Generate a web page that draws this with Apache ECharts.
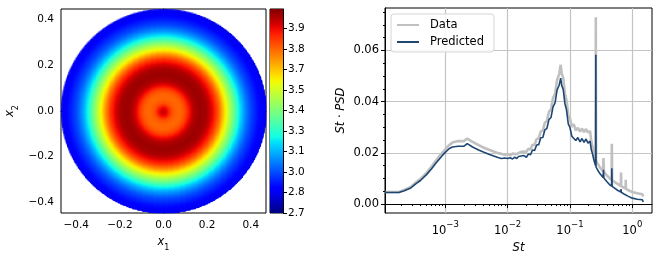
<!DOCTYPE html>
<html><head><meta charset="utf-8">
<script src="https://cdn.jsdelivr.net/npm/echarts@6/dist/echarts.min.js"></script>
<style>html,body{margin:0;padding:0;background:#fff}#c{width:664px;height:260px}</style>
</head><body><div id="c"></div>
<script>
// ---------------- Left panel: field on the disc (radial profile) ----------------
const fieldRadius = [0.00, 0.02, 0.04, 0.06, 0.08, 0.10, 0.12, 0.14, 0.17, 0.20, 0.22, 0.24, 0.26, 0.28, 0.30, 0.32, 0.34, 0.36, 0.38, 0.40, 0.43, 0.45, 0.47];
const fieldValue  = [4.00, 3.93, 3.83, 3.80, 3.80, 3.84, 3.93, 4.01, 4.04, 4.02, 3.96, 3.88, 3.77, 3.63, 3.50, 3.38, 3.25, 3.13, 3.04, 2.97, 2.90, 2.86, 2.83];
const fieldHalfX = 0.47, fieldHalfY = 0.447;
const heatXTicks = [-0.4, -0.2, 0.0, 0.2, 0.4];
const heatYTicks = [-0.4, -0.2, 0.0, 0.2, 0.4];
const cbarTickLabels = ['2.7', '2.8', '3.0', '3.1', '3.3', '3.4', '3.5', '3.7', '3.8', '3.9'];
const cbarMin = 2.70, cbarStep = 0.138, cbarSteps = 9.94;
const cbarMax = cbarMin + cbarStep * cbarSteps;

// ---------------- Right panel: spectra (St, St*PSD) ----------------
const stPredicted = [1.1e-4,1.8e-4,2.2e-4,2.8e-4,3.4e-4,4.0e-4,5.0e-4,6.0e-4,7.0e-4,8.0e-4,9.0e-4,1.0e-3,1.15e-3,1.3e-3,1.6e-3,2.0e-3,2.1e-3,2.25e-3,2.4e-3,2.7e-3,3.0e-3,3.5e-3,4.0e-3,5.0e-3,6.0e-3,7.0e-3,8.0e-3,8.5e-3,9.0e-3,9.5e-3,1.0e-2,1.05e-2,1.1e-2,1.2e-2,1.3e-2,1.4e-2,1.5e-2,1.6e-2,1.8e-2,
  0.020,0.0216,0.0233,0.0251,0.0271,0.0292,0.0315,0.0340,0.0367,0.0396,0.0427,0.0460,0.0496,0.0535,0.0577,0.0622,0.0671,0.0710,0.0740,0.0780,0.0830,0.0880,0.0940,0.1000,0.1070,0.1150,0.1240,0.1340,0.1450,0.1560,0.1680,0.1810,0.1950,0.2100,
  0.22,0.23,0.24,0.25,0.258,0.26,0.262,0.275,0.30,0.34,0.345,0.35,0.39,0.43,0.465,0.47,0.475,0.52,0.58,0.655,0.66,0.665,0.75,0.85,1.0,1.2,1.45,1.5];
const psdPredicted = [0.0045,0.0045,0.0052,0.0063,0.0080,0.0092,0.0115,0.0137,0.0158,0.0175,0.0190,0.0202,0.0216,0.0223,0.0226,0.0226,0.0231,0.0236,0.0229,0.0224,0.0218,0.0210,0.0204,0.0195,0.0188,0.0182,0.0178,0.0174,0.0180,0.0173,0.0178,0.0172,0.0181,0.0176,0.0183,0.0178,0.0186,0.0181,0.0190,
  0.0183,0.0196,0.0193,0.0211,0.0209,0.0231,0.0232,0.0259,0.0260,0.0290,0.0296,0.0330,0.0338,0.0380,0.0395,0.0446,0.0464,0.0492,0.0462,0.0448,0.0392,0.0368,0.0313,0.0299,0.0265,0.0267,0.0248,0.0260,0.0243,0.0256,0.0241,0.0254,0.0238,0.0246,
  0.0212,0.0196,0.0176,0.0160,0.0150,0.0583,0.0145,0.0135,0.0120,0.0104,0.0134,0.0102,0.0088,0.0076,0.0070,0.0140,0.0069,0.0062,0.0054,0.0047,0.0059,0.0046,0.0038,0.0031,0.0023,0.0019,0.0017,0.0008];
const stData = [1.1e-4,1.8e-4,2.2e-4,2.8e-4,3.4e-4,4.0e-4,5.0e-4,6.0e-4,7.0e-4,8.0e-4,9.0e-4,1.0e-3,1.15e-3,1.3e-3,1.6e-3,2.0e-3,2.1e-3,2.25e-3,2.4e-3,2.7e-3,3.0e-3,3.5e-3,4.0e-3,5.0e-3,6.0e-3,7.0e-3,8.0e-3,9.0e-3,1.0e-2,1.1e-2,1.2e-2,1.4e-2,1.6e-2,1.8e-2,
  0.020,0.0216,0.0233,0.0251,0.0271,0.0292,0.0315,0.0340,0.0367,0.0396,0.0427,0.0460,0.0496,0.0535,0.0577,0.0622,0.0671,0.0710,0.0740,0.0780,0.0830,0.0880,0.0940,0.1000,0.1070,0.1150,0.1240,0.1340,0.1450,0.1560,0.1680,0.1810,0.1950,0.2100,
  0.22,0.23,0.24,0.25,0.258,0.26,0.262,0.275,0.30,0.34,0.345,0.35,0.39,0.43,0.465,0.47,0.475,0.52,0.58,0.655,0.66,0.665,0.78,0.785,0.79,0.88,1.0,1.2,1.45,1.5];
const psdData = [0.0047,0.0047,0.0055,0.0067,0.0085,0.0098,0.0122,0.0146,0.0168,0.0186,0.0201,0.0214,0.0230,0.0240,0.0246,0.0246,0.0252,0.0256,0.0249,0.0244,0.0238,0.0229,0.0222,0.0212,0.0205,0.0199,0.0196,0.0192,0.0196,0.0190,0.0197,0.0195,0.0203,0.0205,
  0.0204,0.0216,0.0213,0.0232,0.0231,0.0254,0.0256,0.0284,0.0287,0.0318,0.0325,0.0360,0.0370,0.0414,0.0431,0.0485,0.0507,0.0544,0.0508,0.0493,0.0432,0.0406,0.0348,0.0335,0.0302,0.0312,0.0288,0.0298,0.0283,0.0295,0.0281,0.0293,0.0279,0.0286,
  0.0245,0.0225,0.0200,0.0185,0.0175,0.0730,0.0170,0.0160,0.0145,0.0128,0.0180,0.0126,0.0112,0.0101,0.0095,0.0236,0.0094,0.0086,0.0079,0.0071,0.0123,0.0070,0.0060,0.0095,0.0059,0.0053,0.0047,0.0042,0.0038,0.0030];
const xMajorTicks = [1e-3, 1e-2, 1e-1, 1];
const xMinorTicks = [2e-4,3e-4,4e-4,5e-4,6e-4,7e-4,8e-4,9e-4, 2e-3,3e-3,4e-3,5e-3,6e-3,7e-3,8e-3,9e-3, 2e-2,3e-2,4e-2,5e-2,6e-2,7e-2,8e-2,9e-2, 2e-1,3e-1,4e-1,5e-1,6e-1,7e-1,8e-1,9e-1];
const yMajorTicks = [0.00, 0.02, 0.04, 0.06];
const yMinorTicks = [0.005,0.010,0.015,0.025,0.030,0.035,0.045,0.050,0.055,0.065,0.070,0.075];

// ---------------- helpers ----------------
function jet(t){
  const seg = pts => { for (let k = 1; k < pts.length; k++) { if (t <= pts[k][0]) { const a = pts[k-1], b = pts[k]; return a[1] + (b[1]-a[1])*(t-a[0])/(b[0]-a[0]); } } return pts[pts.length-1][1]; };
  const r = seg([[0,0],[0.35,0],[0.66,1],[0.89,1],[1,0.5]]);
  const g = seg([[0,0],[0.125,0],[0.375,1],[0.64,1],[0.91,0],[1,0]]);
  const b = seg([[0,0.5],[0.11,1],[0.34,1],[0.65,0],[1,0]]);
  return 'rgb(' + Math.round(r*255) + ',' + Math.round(g*255) + ',' + Math.round(b*255) + ')';
}
const jetColors = []; for (let k = 0; k <= 40; k++) jetColors.push(jet(k/40));
const jetStops = jetColors.map((c, k) => ({offset: k/40, color: c}));
function profileAt(r){
  for (let k = 1; k < fieldRadius.length; k++) if (r <= fieldRadius[k]) {
    const f = (r - fieldRadius[k-1]) / (fieldRadius[k] - fieldRadius[k-1]);
    return fieldValue[k-1] + f*(fieldValue[k] - fieldValue[k-1]);
  }
  return fieldValue[fieldValue.length-1];
}
const NC = 170, dx = 2*fieldHalfX/NC, dy = 2*fieldHalfY/NC;
const cellPxFrac = 1.0 / (NC/2);   // one cell as a fraction of the disc radius
const cells = [];
for (let i = 0; i < NC; i++) for (let j = 0; j < NC; j++) {
  const x = -fieldHalfX + (i+0.5)*dx, y = -fieldHalfY + (j+0.5)*dy;
  const rn = Math.sqrt((x/fieldHalfX)**2 + (y/fieldHalfY)**2);
  const cover = Math.max(0, Math.min(1, (1 - rn)/cellPxFrac + 0.5));
  if (cover <= 0) continue;
  cells.push([x, y, profileAt(Math.min(rn, 1)*fieldHalfX), cover]);
}
const FONT = 'DejaVu Sans';
const fmtSigned = (v, d) => (v < -1e-9 ? '\u2212' : '') + Math.abs(v).toFixed(d);
const lbl = (size, extra) => Object.assign({color:'#000', fontFamily: FONT, fontSize: size}, extra || {});

const option = {
  animation: false,
  backgroundColor: '#fff',
  grid: [
    {left: 61, top: 9, width: 205, height: 204, show: true, borderColor: '#000', borderWidth: 1, backgroundColor: 'transparent'},
    {left: 270, top: 9, width: 13, height: 204, show: true, borderColor: '#000', borderWidth: 1, backgroundColor: 'transparent'},
    {left: 385, top: 8, width: 267, height: 205, show: true, borderColor: '#000', borderWidth: 1, backgroundColor: 'transparent'}
  ],
  visualMap: {type: 'continuous', show: false, seriesIndex: 0, dimension: 2, min: cbarMin, max: cbarMax, inRange: {color: jetColors}},
  legend: {
    orient: 'vertical', left: 391, top: 14, itemWidth: 22, itemHeight: 10, itemGap: 5,
    padding: [5, 10, 4, 5], borderColor: '#d4d4d4', borderWidth: 1, borderRadius: 3, backgroundColor: 'rgba(255,255,255,0.85)',
    itemStyle: {opacity: 0},
    textStyle: lbl(11.5, {padding: [0, 0, 0, 6]}), data: ['Data', 'Predicted']
  },
  xAxis: [
    {gridIndex: 0, type: 'value', min: -fieldHalfX, max: fieldHalfX, position: 'bottom',
     axisLine: {show: true, lineStyle: {color: '#000', width: 1}},
     axisTick: {show: true, length: 4, customValues: heatXTicks, lineStyle: {color: '#000'}},
     axisLabel: {customValues: heatXTicks, margin: 7, formatter: v => fmtSigned(v, 1), ...lbl(10.5)},
     splitLine: {show: false},
     name: '{i|x}{s|1}', nameLocation: 'middle', nameGap: 22,
     nameTextStyle: {rich: {i: lbl(11.5, {fontStyle: 'italic', padding: [0,0,4,0]}), s: lbl(8, {verticalAlign: 'bottom'})}}},
    {gridIndex: 1, type: 'category', data: ['cb'], show: false, boundaryGap: true},
    {gridIndex: 2, type: 'log', logBase: 10, min: 1.08e-4, max: 2.07, position: 'bottom',
     axisLine: {show: true, lineStyle: {color: '#000', width: 1}},
     axisTick: {show: true, length: 4, customValues: xMajorTicks, lineStyle: {color: '#000'}},
     axisLabel: {customValues: xMajorTicks, margin: 7,
       formatter: v => { const e = Math.round(Math.log10(v)); return '{b|10}{s|' + (e < 0 ? '\u2212' : '') + Math.abs(e) + '}'; },
       rich: {b: lbl(11.5, {padding: [5,0,0,0]}), s: lbl(8.5, {verticalAlign: 'top'})}},
     splitLine: {show: true, lineStyle: {color: '#c4c4c4', width: 1.2}},
     minorTick: {show: false},
     name: '{i|St}', nameLocation: 'middle', nameGap: 24,
     nameTextStyle: {rich: {i: lbl(11.5, {fontStyle: 'italic'})}}},
    {gridIndex: 2, type: 'log', logBase: 10, min: 1.08e-4, max: 2.07, position: 'bottom',
     axisLine: {show: false}, axisLabel: {show: false}, splitLine: {show: false},
     axisTick: {show: true, length: 2, customValues: xMinorTicks, lineStyle: {color: '#000'}}}
  ],
  yAxis: [
    {gridIndex: 0, type: 'value', min: -fieldHalfY, max: fieldHalfY, position: 'left',
     axisLine: {show: true, lineStyle: {color: '#000', width: 1}},
     axisTick: {show: true, length: 4, customValues: heatYTicks, lineStyle: {color: '#000'}},
     axisLabel: {customValues: heatYTicks, margin: 7, formatter: v => fmtSigned(v, 1), ...lbl(10.5)},
     splitLine: {show: false},
     name: '{i|x}{s|2}', nameLocation: 'middle', nameGap: 41, nameRotate: 90,
     nameTextStyle: {rich: {i: lbl(11.5, {fontStyle: 'italic', padding: [0,0,4,0]}), s: lbl(8, {verticalAlign: 'bottom'})}}},
    {gridIndex: 1, type: 'value', min: 0, max: cbarSteps, position: 'right',
     axisLine: {show: true, lineStyle: {color: '#000', width: 1}},
     axisTick: {show: true, length: 4, customValues: cbarTickLabels.map((_, k) => k), lineStyle: {color: '#000'}},
     axisLabel: {customValues: cbarTickLabels.map((_, k) => k), margin: 5, formatter: v => cbarTickLabels[Math.round(v)], ...lbl(10.5)},
     splitLine: {show: false}},
    {gridIndex: 2, type: 'value', min: -0.0035, max: 0.0766, position: 'left',
     axisLine: {show: true, lineStyle: {color: '#000', width: 1}},
     axisTick: {show: true, length: 4, customValues: yMajorTicks, lineStyle: {color: '#000'}},
     axisLabel: {customValues: yMajorTicks, margin: 6, formatter: v => v.toFixed(2), ...lbl(11.5)},
     splitLine: {show: true, lineStyle: {color: '#c4c4c4', width: 1.2}},
     name: '{i|St}{n| \u00b7 }{i|PSD}', nameLocation: 'middle', nameGap: 38, nameRotate: 90,
     nameTextStyle: {rich: {i: lbl(11.5, {fontStyle: 'italic'}), n: lbl(11.5)}}},
    {gridIndex: 2, type: 'value', min: -0.0035, max: 0.0766, position: 'left',
     axisLine: {show: false}, axisLabel: {show: false}, splitLine: {show: false},
     axisTick: {show: true, length: 2, customValues: yMinorTicks, lineStyle: {color: '#000'}}}
  ],
  series: [
    {type: 'custom', xAxisIndex: 0, yAxisIndex: 0, data: cells, progressive: 0, silent: true,
     renderItem: (params, api) => {
       const p0 = api.coord([api.value(0) - dx/2, api.value(1) + dy/2]);
       const p1 = api.coord([api.value(0) + dx/2, api.value(1) - dy/2]);
       const full = api.value(3) >= 1;
       return {type: 'rect', shape: {x: p0[0], y: p0[1], width: p1[0]-p0[0] + (full ? 1 : 0.3), height: p1[1]-p0[1] + (full ? 1 : 0.3)},
               style: {fill: api.visual('color'), opacity: api.value(3)}};
     }},
    {type: 'bar', xAxisIndex: 1, yAxisIndex: 1, data: [cbarSteps], barWidth: '100%', silent: true,
     itemStyle: {color: new echarts.graphic.LinearGradient(0, 1, 0, 0, jetStops)}},
    {type: 'line', name: 'Data', xAxisIndex: 2, yAxisIndex: 2, showSymbol: false, symbol: 'none',
     data: stData.map((s, k) => [s, psdData[k]]), lineStyle: {color: '#c0c0c0', width: 2.6}, itemStyle: {color: '#c0c0c0'}},
    {type: 'line', name: 'Predicted', xAxisIndex: 2, yAxisIndex: 2, showSymbol: false, symbol: 'none',
     data: stPredicted.map((s, k) => [s, psdPredicted[k]]), lineStyle: {color: '#1d4673', width: 1.6}, itemStyle: {color: '#1d4673'}}
  ]
};
const chart = echarts.init(document.getElementById('c'));
chart.setOption(option);
</script>
</body></html>
